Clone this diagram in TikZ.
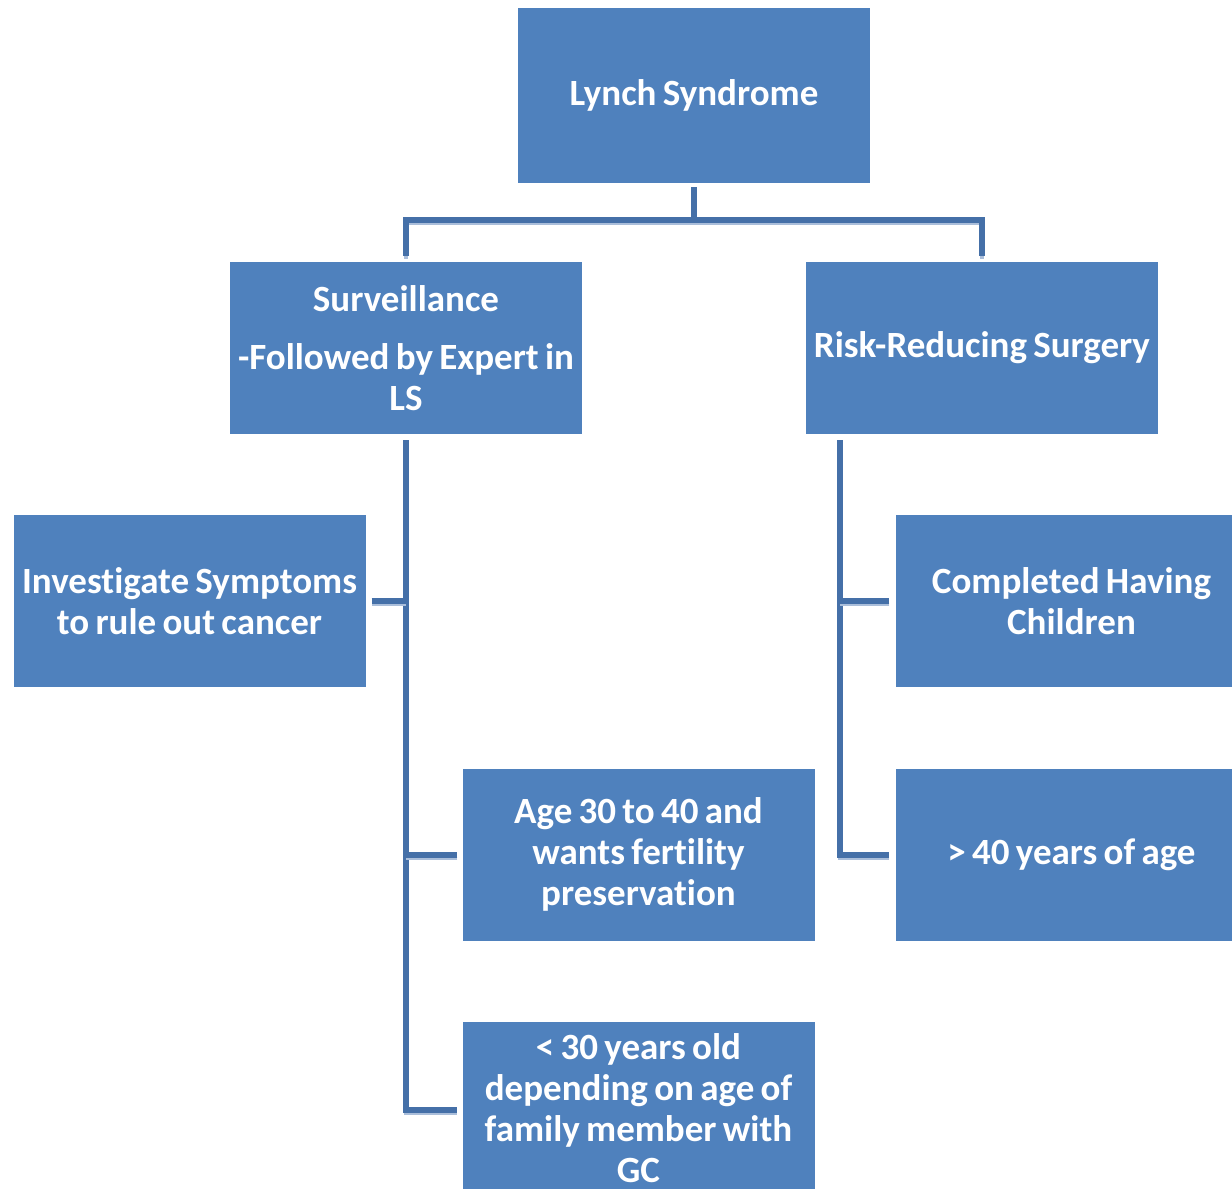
\documentclass[tikz,border=0pt]{standalone}
\usepackage{fontspec}
\setmainfont{Carlito}[Ligatures=NoCommon, WordSpace=0.75]
\usetikzlibrary{positioning,calc}
\definecolor{lsBox}{RGB}{79,129,189}
\definecolor{lsLine}{RGB}{69,112,168}
\definecolor{lsShade}{RGB}{170,190,218}
\tikzset{
  box/.style={rectangle, fill=lsBox, text=white, align=center,
              minimum width=352pt, minimum height=172pt, inner sep=2pt,
              font=\fontsize{37}{41}\selectfont\bfseries},
  link/.style={draw=lsLine, line width=6pt,
               preaction={draw=lsShade, line width=4pt, transform canvas={yshift=-3pt}}}
}
\begin{document}
\begin{tikzpicture}[x=1pt, y=-1pt]
\useasboundingbox (0,0) rectangle (1232,1189);
% boxes
\node[box, minimum height=175pt] (lynch) at (694,95.5) {Lynch Syndrome};
\node[box] (surv) at (406,348) {Surveillance\\[17pt]-Followed by Expert in\\LS};
\node[box] (risk) at (982,348) {Risk-Reducing Surgery};
\node[box] (invest) at (189.5,601) {Investigate Symptoms\\to rule out cancer};
\node[box] (childr) at (1071.5,601) {Completed Having\\Children};
\node[box] (fertil) at (638.5,854.5) {Age 30 to 40 and\\wants fertility\\preservation};
\node[box] (older) at (1071.5,854.5) {> 40 years of age};
\node[box] (young) at (638.5,1108) {< 30 years old\\depending on age of\\family member with\\GC};
% connectors
\coordinate (top) at (694,220);
\draw[link, shorten <=4pt] (lynch.south) -- (top);
\draw[link, shorten <=6pt, shorten >=6pt] (surv.north) |- (top) -| (risk.north);
\coordinate (sbot) at (406,1110);
\draw[link, shorten <=6pt, shorten >=5pt] (surv.south) -- (sbot) -- (sbot -| young.west);
\draw[link, shorten <=6pt] (invest.east) -- (invest.east -| surv.south);
\draw[link, shorten <=5pt] (fertil.west) -- (fertil.west -| surv.south);
\coordinate (rtop) at ([xshift=34pt]risk.south west);
\draw[link, shorten <=6pt, shorten >=6pt] (rtop) |- (older.west);
\draw[link, shorten <=6pt] (childr.west) -- (childr.west -| rtop);
\end{tikzpicture}
\end{document}
